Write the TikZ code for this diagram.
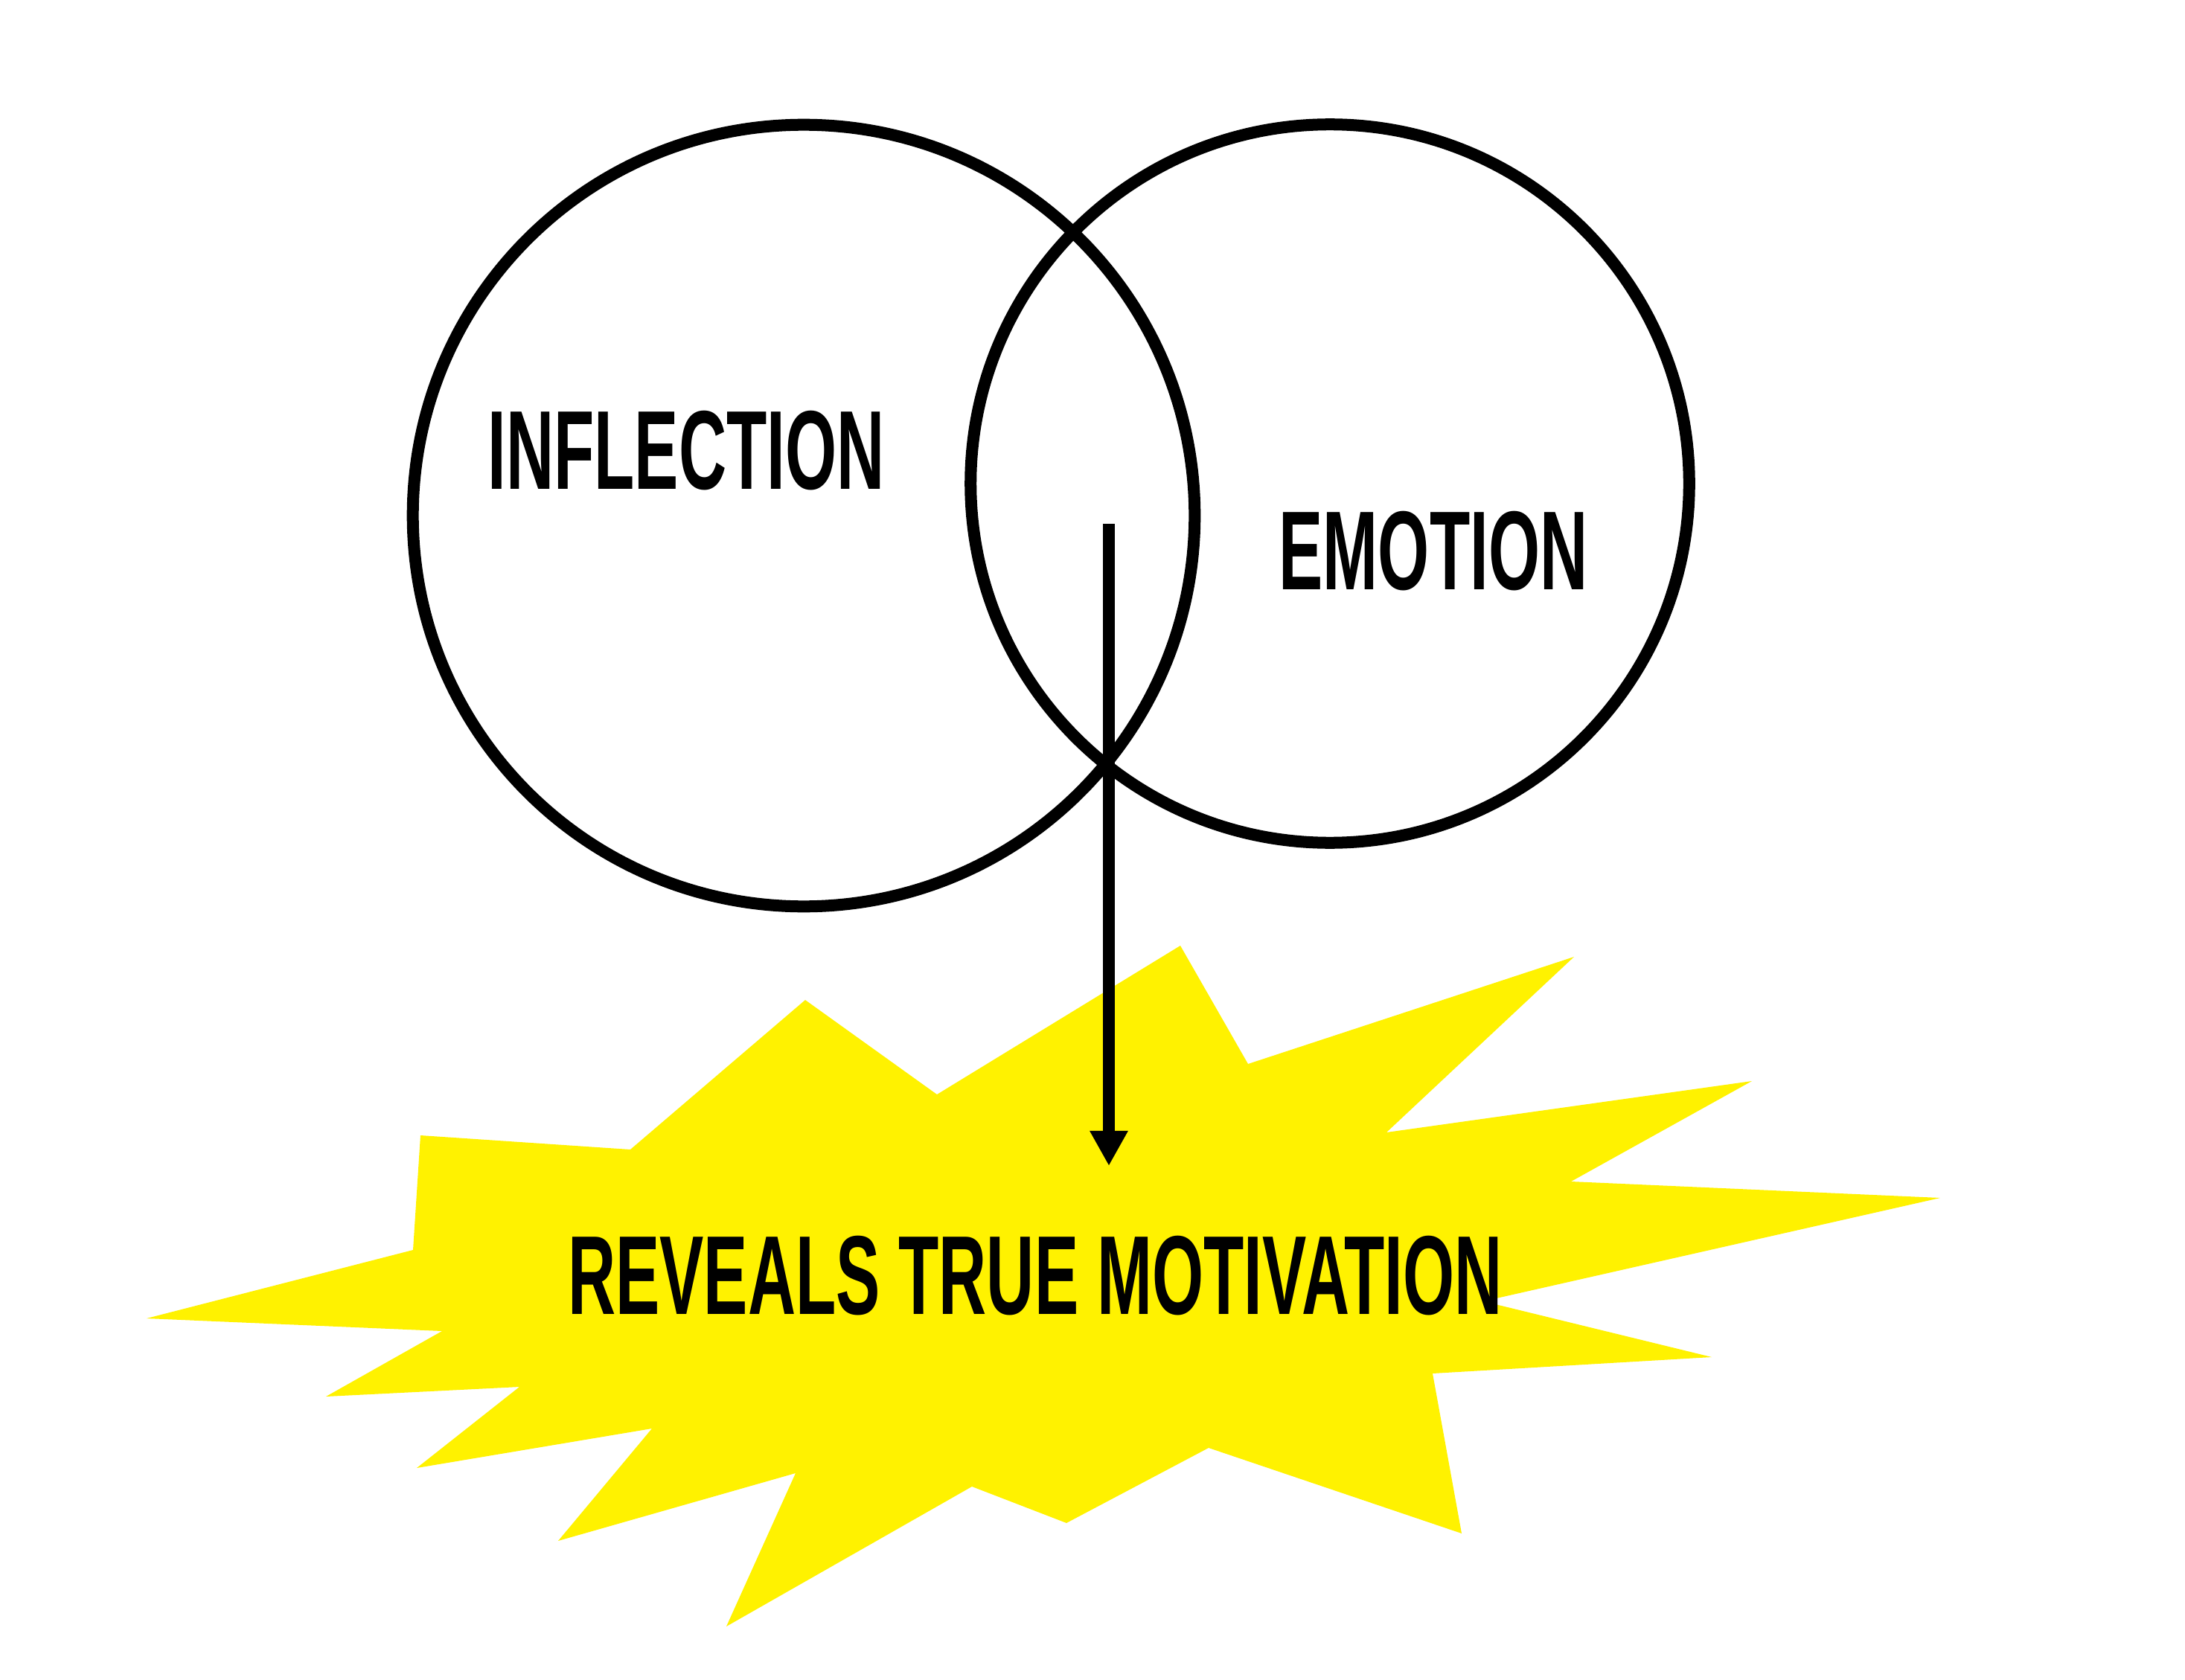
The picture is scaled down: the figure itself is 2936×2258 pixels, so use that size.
\documentclass[tikz,border=0pt]{standalone}
\usepackage{fontspec}
\newfontfamily\dinfont[FakeStretch=0.589]{Liberation Sans}
\usetikzlibrary{arrows.meta}

\begin{document}
\begin{tikzpicture}[
x=0.01cm,y=-0.01cm,
ring/.style={
  draw,
  circle,
  line width=0.16cm,
  inner sep=0pt
  },
word/.style={
  inner sep=0pt,
  anchor=base,
  font=\dinfont\bfseries\fontsize{42.9pt}{46pt}\selectfont
  },
burst/.style={fill=yellow},
link/.style={line width=0.16cm,-{Triangle[width=0.48cm,length=0.47cm]}}
]
\useasboundingbox (0,0) rectangle (2936,2258);
% the yellow starburst
\fill[burst] (1586,1271) -- (1677,1430) -- (2115,1286) -- (1863,1522) -- (2354,1453)
  -- (2111,1588) -- (2607,1610) -- (1993,1749) -- (2300,1824) -- (1925,1846)
  -- (1964,2061) -- (1624,1946) -- (1433,2047) -- (1306,1998) -- (976,2186)
  -- (1069,1980) -- (750,2071) -- (876,1920) -- (560,1973) -- (698,1864)
  -- (438,1877) -- (594,1789) -- (197,1772) -- (555,1680) -- (565,1526)
  -- (847,1545) -- (1082,1344) -- (1259,1471) -- cycle;
% the two circles
\node[ring,minimum size=10.5cm] (infl) at (1080,693) {};
\node[ring,minimum size=9.65cm] (emo) at (1787,650) {};
\node[word] (inflText) at (922,657) {INFLECTION};
\node[word] (emoText) at (1926,792) {EMOTION};
\node[word] (reveal) at (1391,1766) {REVEALS TRUE MOTIVATION};
\coordinate (arrTop) at (1490,704);
\coordinate (arrTip) at (1490,1567);
\draw[link] (arrTop) -- (arrTip);
\end{tikzpicture}
\end{document}
